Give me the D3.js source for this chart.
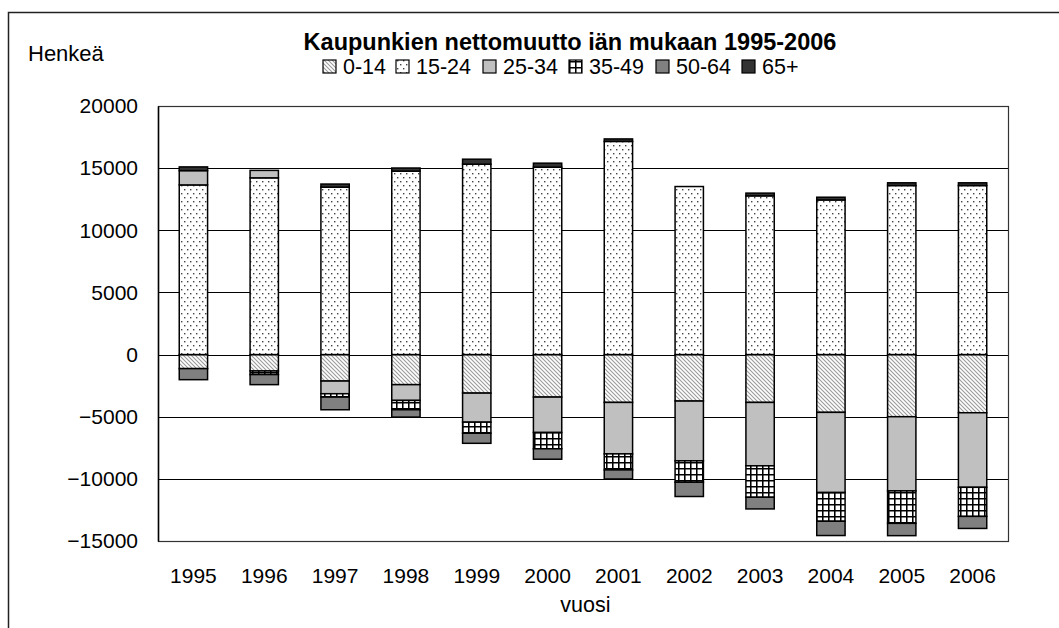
<!DOCTYPE html>
<html>
<head>
<meta charset="utf-8">
<script src="https://cdn.jsdelivr.net/npm/d3@7"></script>
<style>
  html, body { margin: 0; padding: 0; background: #fff; }
  svg { display: block; font-family: Arial, "Liberation Sans", sans-serif; }
</style>
</head>
<body>
<svg id="chart" width="1059" height="628"></svg>
<script>
const years = ["1995","1996","1997","1998","1999","2000","2001","2002","2003","2004","2005","2006"];
const ageGroups = ["0-14","15-24","25-34","35-49","50-64","65+"];
const a0_14  = [-1130, -1320, -2130, -2420, -3100, -3420, -3850, -3740, -3850, -4650, -5000, -4680];
const a15_24 = [13650, 14220, 13470, 14760, 15320, 15080, 17150, 13520, 12770, 12440, 13600, 13600];
const a25_34 = [1150, 600, -1020, -1270, -2340, -2850, -4140, -4810, -5100, -6450, -5970, -6000];
const a35_49 = [0, -290, -270, -750, -890, -1310, -1290, -1720, -2530, -2310, -2610, -2340];
const a50_64 = [-890, -810, -1020, -590, -810, -840, -730, -1150, -940, -1150, -990, -970];
const a65    = [300, 0, 250, 250, 400, 320, 200, 0, 220, 220, 220, 220];
const yTicks = [20000, 15000, 10000, 5000, 0, -5000, -10000, -15000];

const seriesValues = [a0_14, a15_24, a25_34, a35_49, a50_64, a65];
const table = years.map((y, i) => {
  const row = { year: y };
  ageGroups.forEach((g, k) => { row[g] = seriesValues[k][i]; });
  return row;
});

const svg = d3.select("#chart");
const plot = { left: 158, right: 1008, top: 106, bottom: 541 };

// patterns
const defs = svg.append("defs");
const p0 = defs.append("pattern").attr("id", "pat0").attr("patternUnits", "userSpaceOnUse")
  .attr("width", 4).attr("height", 4);
p0.append("rect").attr("width", 4).attr("height", 4).attr("fill", "#fff");
p0.append("path").attr("d", "M-1,-1 L5,5 M-1,3 L1,5 M3,-1 L5,1")
  .attr("stroke", "#9a9a9a").attr("stroke-width", 1.1);

const p1 = defs.append("pattern").attr("id", "pat1").attr("patternUnits", "userSpaceOnUse")
  .attr("width", 6).attr("height", 8);
p1.append("rect").attr("width", 6).attr("height", 8).attr("fill", "#fff");
p1.append("rect").attr("x", 1).attr("y", 1).attr("width", 1.4).attr("height", 1.4).attr("fill", "#444");
p1.append("rect").attr("x", 4).attr("y", 5).attr("width", 1.4).attr("height", 1.4).attr("fill", "#444");

const p3 = defs.append("pattern").attr("id", "pat3").attr("patternUnits", "userSpaceOnUse")
  .attr("width", 6).attr("height", 6);
p3.append("rect").attr("width", 6).attr("height", 6).attr("fill", "#fff");
p3.append("path").attr("d", "M0,0.75 H6 M0.75,0 V6").attr("stroke", "#000").attr("stroke-width", 1.6);

const fills = ["url(#pat0)", "url(#pat1)", "#c0c0c0", "url(#pat3)", "#808080", "#333333"];

// outer frame
svg.append("path").attr("d", "M8.5,640 V12.5 H1070")
  .attr("fill", "none").attr("stroke", "#222").attr("stroke-width", 1.5);

const x = d3.scaleBand().domain(years).range([plot.left, plot.right]).padding(0);
const y = d3.scaleLinear().domain([-15000, 20000]).range([plot.bottom, plot.top]);
const barW = x.bandwidth() * 0.4;

// gridlines
svg.append("g").selectAll("line").data(yTicks.filter(t => t !== 20000 && t !== -15000))
  .join("line")
  .attr("x1", plot.left).attr("x2", plot.right)
  .attr("y1", d => Math.round(y(d)) + 0.5).attr("y2", d => Math.round(y(d)) + 0.5)
  .attr("stroke", "#000").attr("stroke-width", 1);

// plot frame
svg.append("rect").attr("x", plot.left + 0.5).attr("y", Math.round(y(20000)) + 0.5)
  .attr("width", plot.right - plot.left).attr("height", Math.round(y(-15000)) - Math.round(y(20000)))
  .attr("fill", "none").attr("stroke", "#333").attr("stroke-width", 1.2);

// y axis
const yAxis = d3.axisLeft(y).tickValues(yTicks).tickSize(0).tickPadding(20).tickFormat(d3.format("d"));
const yg = svg.append("g").attr("transform", `translate(${plot.left},0)`).call(yAxis);
yg.select(".domain").attr("stroke", "#000").attr("stroke-width", 1.5);
yg.selectAll("text").attr("font-size", 21).attr("fill", "#000")
  .attr("font-family", "Arial, 'Liberation Sans', sans-serif");

// x axis
const xAxis = d3.axisBottom(x).tickSize(0).tickPadding(27);
const xg = svg.append("g").attr("transform", `translate(0,${plot.bottom})`).call(xAxis);
xg.select(".domain").remove();
xg.selectAll("text").attr("font-size", 21).attr("fill", "#000")
  .attr("font-family", "Arial, 'Liberation Sans', sans-serif");

// stacked bars
const stack = d3.stack().keys(ageGroups).offset(d3.stackOffsetDiverging);
const layers = stack(table);
svg.append("g").selectAll("g").data(layers).join("g")
  .attr("fill", (d, i) => fills[i])
  .selectAll("rect").data(d => d.filter(s => s[1] !== s[0])).join("rect")
  .attr("x", d => x(d.data.year) + (x.bandwidth() - barW) / 2)
  .attr("y", d => y(Math.max(d[0], d[1])))
  .attr("width", barW)
  .attr("height", d => Math.abs(y(d[0]) - y(d[1])))
  .attr("stroke", "#000").attr("stroke-width", 1.5);

// title
svg.append("text").attr("x", 570).attr("y", 50).attr("text-anchor", "middle")
  .attr("font-size", 23.5).attr("font-weight", "bold").attr("fill", "#000")
  .text("Kaupunkien nettomuutto iän mukaan 1995-2006");

// y label
svg.append("text").attr("x", 28).attr("y", 61).attr("font-size", 22).attr("fill", "#000").text("Henkeä");

// x label
svg.append("text").attr("x", x("2001") + x.bandwidth() / 2 - 33).attr("y", 612).attr("text-anchor", "middle")
  .attr("font-size", 21.5).attr("fill", "#000").text("vuosi");

// legend
const legendX = [323, 396, 483, 569, 656, 742];
const lg = svg.append("g").selectAll("g").data(ageGroups).join("g")
  .attr("transform", (d, i) => `translate(${legendX[i]},67)`);
lg.append("rect").attr("x", 0).attr("y", -7).attr("width", 13).attr("height", 13)
  .attr("fill", (d, i) => fills[i]).attr("stroke", "#000").attr("stroke-width", 1.2);
lg.append("text").attr("x", 20).attr("y", 7).attr("font-size", 21.5).attr("fill", "#000").text(d => d);
</script>
</body>
</html>
